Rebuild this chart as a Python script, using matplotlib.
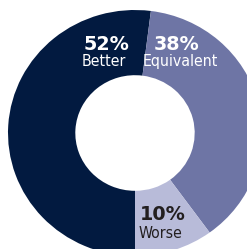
import matplotlib
matplotlib.use("Agg")
import matplotlib.pyplot as plt

categories = ["Better", "Equivalent", "Worse"]
values = [52, 38, 10]
colors = ["#021a40", "#6e75a5", "#b8bbd9"]
label_colors = ["white", "white", "#231f20"]

fig = plt.figure(figsize=(2.47, 2.49), dpi=100)
ax = fig.add_axes([0, 0, 1, 1])
ax.pie(values, colors=colors, startangle=-90, counterclock=False,
       radius=1.0, wedgeprops=dict(width=0.53, linewidth=0))
ax.set_aspect("auto")
ax.set_xlim(-135/127, 112/127)
ax.set_ylim(-(249-133)/123, 133/123)
ax.axis("off")

def px(x, y):
    return ((x-135)/127, (133-y)/123)

pct_pos = [(106.5, 44), (177, 44), (163, 215)]
name_pos = [(104, 61.5), (180, 61.5), (160, 233.5)]
for cat, v, c, pp, npos in zip(categories, values, label_colors, pct_pos, name_pos):
    ax.text(*px(*pp), f"{v}%", ha="center", va="center", color=c,
            fontsize=13.8, fontweight="heavy", family=["DejaVu Sans"])
    ax.text(*px(*npos), cat, ha="center", va="center", color=c,
            fontsize=11.3, fontstretch="condensed", family=["DejaVu Sans"])

fig.savefig("out.png", dpi=100)
